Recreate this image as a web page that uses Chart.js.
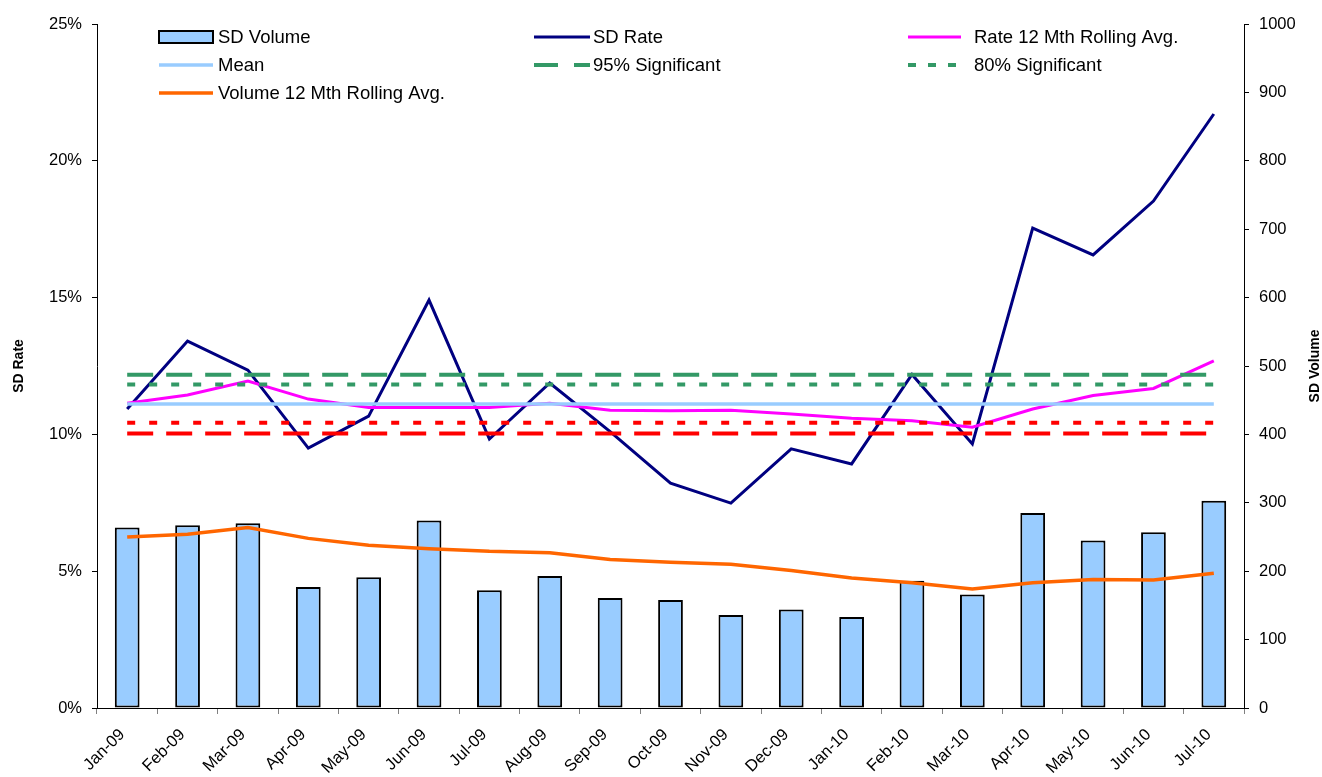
<!DOCTYPE html>
<html><head><meta charset="utf-8">
<script src="https://cdn.jsdelivr.net/npm/chart.js@4/dist/chart.umd.min.js"></script>
<style>html,body{margin:0;padding:0;background:#fff;} canvas{display:block;}</style>
</head><body>
<canvas id="c" width="1322" height="777"></canvas>
<script>
const categories = ['Jan-09','Feb-09','Mar-09','Apr-09','May-09','Jun-09','Jul-09','Aug-09','Sep-09','Oct-09','Nov-09','Dec-09','Jan-10','Feb-10','Mar-10','Apr-10','May-10','Jun-10','Jul-10'];
const sdVolume = [264,267,270,177,191,274,172,193,161,158,136,144,133,186,166,285,245,257,303];
const sdRate = [10.93,13.41,12.35,9.50,10.67,14.91,9.83,11.88,10.10,8.22,7.49,9.47,8.92,12.19,9.65,17.54,16.56,18.53,21.71];
const rateRollingAvg = [11.14,11.44,11.95,11.29,10.98,10.98,10.98,11.14,10.88,10.86,10.88,10.75,10.59,10.50,10.26,10.93,11.42,11.68,12.69];
const volumeRollingAvg = [250,254,264,248,238,233,229,227,217,213,210,201,190,183,174,183,188,187,197];
const meanRate = 11.11;
const upper95 = 12.18;
const upper80 = 11.82;
const lower80 = 10.43;
const lower95 = 10.03;
const rateTickLabels = ['0%','5%','10%','15%','20%','25%'];
const volumeTickLabels = ['0','100','200','300','400','500','600','700','800','900','1000'];

const flat = v => categories.map(() => v);
const FONT = '"Liberation Sans", Arial, sans-serif';

const legendPlugin = {
  id: 'gridLegend',
  afterDraw(chart, args, opts) {
    const ctx = chart.ctx;
    ctx.save();
    ctx.font = '18.5px ' + FONT;
    ctx.textBaseline = 'middle';
    ctx.textAlign = 'left';
    opts.items.forEach(it => {
      const ds = chart.data.datasets[it.index];
      const x0 = opts.columns[it.col];
      const y = opts.rows[it.row];
      const w = opts.swatchW[it.col];
      if (ds.type === 'bar') {
        ctx.fillStyle = ds.backgroundColor;
        ctx.fillRect(x0, y - 6, w, 12);
        ctx.strokeStyle = '#000';
        ctx.lineWidth = 2;
        ctx.strokeRect(x0, y - 6, w, 12);
      } else {
        ctx.strokeStyle = ds.borderColor;
        ctx.lineWidth = ds.borderWidth;
        ctx.setLineDash(it.dash || []);
        ctx.beginPath();
        ctx.moveTo(x0, y);
        ctx.lineTo(x0 + w, y);
        ctx.stroke();
        ctx.setLineDash([]);
      }
      ctx.fillStyle = '#000';
      ctx.fillText(ds.label, opts.textX[it.col], y + 1);
    });
    ctx.restore();
  }
};

const axisTitlePlugin = {
  id: 'axisTitles',
  afterDraw(chart, args, opts) {
    const ctx = chart.ctx;
    ctx.save();
    ctx.font = 'bold 14px ' + FONT;
    ctx.fillStyle = '#000';
    ctx.textAlign = 'center';
    ctx.textBaseline = 'middle';
    opts.titles.forEach(t => {
      const sc = chart.scales[t.scale];
      const cy = (sc.top + sc.bottom) / 2 + t.dy;
      ctx.save();
      ctx.translate(t.x, cy);
      ctx.rotate(-Math.PI / 2);
      ctx.fillText(t.text, 0, 0);
      ctx.restore();
    });
    ctx.restore();
  }
};

const lineDs = (label, data, color, width, dash, order) => ({
  type: 'line', label, data, borderColor: color, backgroundColor: color,
  borderWidth: width, borderDash: dash || [], pointRadius: 0, pointHoverRadius: 0,
  tension: 0, fill: false, yAxisID: 'yRate', order
});

const datasets = [
  { type: 'bar', label: 'SD Volume', data: sdVolume, backgroundColor: '#99CCFF', borderColor: '#000',
    borderWidth: 2, borderSkipped: false, yAxisID: 'yVol', order: 100,
    categoryPercentage: 1.0, barPercentage: 0.41 },
  lineDs('SD Rate', sdRate, '#000080', 3, [], 8),
  lineDs('Rate 12 Mth Rolling Avg.', rateRollingAvg, '#FF00FF', 3, [], 7),
  lineDs('Mean', flat(meanRate), '#99CCFF', 3.5, [], 6),
  lineDs('95% Significant', flat(upper95), '#339966', 4, [26, 13], 5),
  lineDs('80% Significant', flat(upper80), '#339966', 4, [8, 14], 4),
  lineDs('Lower 95%', flat(lower95), '#FF0000', 4, [26, 13], 3),
  lineDs('Lower 80%', flat(lower80), '#FF0000', 4, [8, 14], 2),
  Object.assign(lineDs('Volume 12 Mth Rolling Avg.', volumeRollingAvg, '#FF6600', 3.5, [], 1), { yAxisID: 'yVol' })
];

new Chart(document.getElementById('c'), {
  data: { labels: categories, datasets },
  options: {
    responsive: false,
    devicePixelRatio: 1,
    animation: false,
    layout: { padding: { top: 24, left: 0, right: 0, bottom: 0 } },
    plugins: {
      legend: { display: false },
      tooltip: { enabled: false },
      gridLegend: {
        columns: [159, 534, 908],
        swatchW: [54, 56, 53],
        textX: [218, 593, 974],
        rows: [37, 65, 93],
        items: [
          { index: 0, col: 0, row: 0 },
          { index: 1, col: 1, row: 0 },
          { index: 2, col: 2, row: 0 },
          { index: 3, col: 0, row: 1 },
          { index: 4, col: 1, row: 1, dash: [24, 16] },
          { index: 5, col: 2, row: 1, dash: [8, 12] },
          { index: 8, col: 0, row: 2 }
        ]
      },
      axisTitles: {
        titles: [
          { scale: 'yRate', text: 'SD Rate', x: 19, dy: 0 },
          { scale: 'yVol', text: 'SD Volume', x: 1315, dy: 0 }
        ]
      }
    },
    scales: {
      x: {
        type: 'category',
        offset: true,
        grid: { display: true, drawOnChartArea: false, drawTicks: true, tickLength: 6, color: '#808080', offset: true },
        border: { display: true, color: '#000', width: 1 },
        ticks: { autoSkip: false, maxRotation: 45, minRotation: 45, color: '#000', padding: 11, labelOffset: -5,
                 font: { family: FONT, size: 16.5 } },
        afterFit(scale) { scale.height = 69; }
      },
      yRate: {
        type: 'linear', position: 'left', min: 0, max: 25,
        grid: { display: true, drawOnChartArea: false, drawTicks: true, tickLength: 5, color: '#000' },
        border: { display: true, color: '#000', width: 1 },
        ticks: { stepSize: 5, padding: 10, color: '#000', font: { family: FONT, size: 16.5 },
                 callback: (v, i) => rateTickLabels[i] },
        afterFit(scale) { scale.width = 97; }
      },
      yVol: {
        type: 'linear', position: 'right', min: 0, max: 1000,
        grid: { display: true, drawOnChartArea: false, drawTicks: true, tickLength: 5, color: '#000' },
        border: { display: true, color: '#000', width: 1 },
        ticks: { stepSize: 100, padding: 10, color: '#000', font: { family: FONT, size: 16.5 },
                 callback: (v, i) => volumeTickLabels[i] },
        afterFit(scale) { scale.width = 78; }
      }
    }
  },
  plugins: [legendPlugin, axisTitlePlugin]
});
</script>
</body></html>
